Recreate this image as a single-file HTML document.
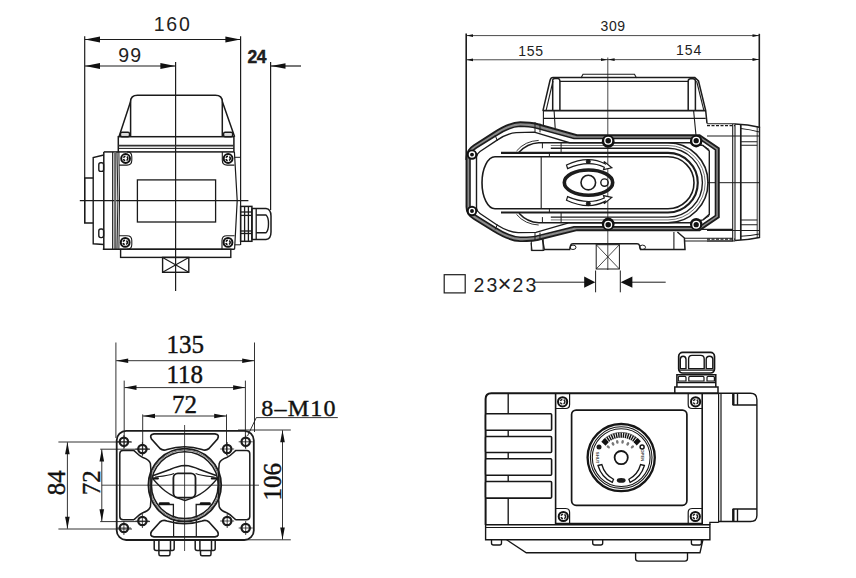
<!DOCTYPE html>
<html><head><meta charset="utf-8">
<style>
html,body{margin:0;padding:0;background:#fff;width:856px;height:578px;overflow:hidden}
svg{display:block}
.s{font-family:"Liberation Sans",sans-serif;fill:#222}
.r{font-family:"Liberation Serif",serif;fill:#111;stroke:#111;stroke-width:0.4px}
</style></head><body>
<svg width="856" height="578" viewBox="0 0 856 578">
<rect width="856" height="578" fill="#fff"/>

<!-- ============ TOP LEFT VIEW ============ -->
<g id="tl" fill="none" stroke="#1c1c1c" stroke-width="1.2">
  <!-- dimension / extension lines -->
  <line x1="84.7" y1="36.3" x2="84.7" y2="223"/>
  <line x1="240.6" y1="36.3" x2="240.6" y2="245"/>
  <line x1="270.6" y1="62" x2="270.6" y2="210"/>
  <line x1="175.6" y1="62" x2="175.6" y2="291"/>
  <line x1="85" y1="39.5" x2="240" y2="39.5"/>
  <line x1="85" y1="66" x2="175" y2="66"/>
  <line x1="271" y1="66" x2="301" y2="66"/>
  <line x1="79.8" y1="200.6" x2="248.4" y2="200.6"/>
</g>
<g fill="#111">
  <path d="M85,39.5 L100,36.6 L100,42.4 Z"/>
  <path d="M240.4,39.5 L225.4,36.6 L225.4,42.4 Z"/>
  <path d="M85,66 L100,63.1 L100,68.9 Z"/>
  <path d="M175.4,66 L160.4,63.1 L160.4,68.9 Z"/>
  <path d="M271,66 L285.5,63.3 L285.5,68.7 Z"/>
</g>
<text class="s" x="153.8" y="31.2" font-size="19.5" letter-spacing="1.7">160</text>
<text class="s" x="118.3" y="62.3" font-size="19.5" letter-spacing="1.1">99</text>
<text class="s" x="247.5" y="62.7" font-size="17.5" font-weight="bold" letter-spacing="-0.6" fill="#111" stroke="#111" stroke-width="0.4">24</text>

<g fill="none" stroke="#1a1a1a" stroke-width="1.35">
  <!-- top cover -->
  <path d="M130.6,136.7 L130.6,101.6 Q130.6,95.2 137.5,95.2 L215.4,95.2 Q222.3,95.2 222.3,101.6 L222.3,136.7" stroke-width="1.5"/>
  <path d="M130.6,101.6 L119,136.7 M222.3,101.6 L234.6,136.7" stroke-width="1.5"/>
  <rect x="120.5" y="132.2" width="9" height="4.5" rx="1.5" fill="#ddd"/>
  <rect x="223.6" y="132.2" width="9" height="4.5" rx="1.5" fill="#ddd"/>
  <!-- plate -->
  <rect x="118.3" y="136.7" width="115.6" height="15.2" stroke-width="1.5"/>
  <line x1="118.3" y1="145.6" x2="233.9" y2="145.6" stroke-width="1.9" stroke="#333"/>
  <line x1="118.3" y1="148.4" x2="233.9" y2="148.4" stroke-width="1"/>
  <!-- main box sides -->
  <path d="M118.9,151.9 L119.5,200.5 L118.9,249.3" stroke-width="1"/>
  <path d="M234.4,151.9 L237.2,200.5 L234.6,249.3" stroke-width="1.2"/>
  <line x1="234.4" y1="157.3" x2="240.4" y2="157.3" stroke-width="1"/>
  <line x1="234.6" y1="244.8" x2="240.4" y2="244.8" stroke-width="1"/>
  <!-- left flange -->
  <path d="M103.8,151.9 L118.3,151.9" stroke-width="1.5"/>
  <line x1="103.8" y1="151.9" x2="103.8" y2="249.3" stroke-width="1.5"/>
  <line x1="112.7" y1="151.9" x2="112.7" y2="249.3" stroke-width="1.2"/>
  <line x1="115.2" y1="151.9" x2="115.2" y2="249.3" stroke-width="2.2" stroke="#666"/>
  <line x1="117" y1="151.9" x2="117.9" y2="200.5" stroke-width="1"/>
  <line x1="117.9" y1="200.5" x2="117" y2="249.3" stroke-width="1"/>
  <path d="M103.8,155 L93.2,157.5 L93.2,243.8 L103.8,244.5" stroke-width="1.4"/>
  <path d="M93.2,178 L84.7,178 L84.7,223 L93.2,223" stroke-width="1.4"/>
  <rect x="98.8" y="162.8" width="4.8" height="8.6" rx="2" stroke-width="1.4"/>
  <rect x="98.8" y="229" width="4.8" height="8.6" rx="2" stroke-width="1.4"/>
  <!-- inner window -->
  <rect x="137.4" y="179.9" width="78.2" height="42.1" stroke-width="1.3"/>
  <!-- bottom -->
  <line x1="102.8" y1="249.3" x2="234.6" y2="249.3" stroke-width="1.6"/>
  <rect x="120.6" y="249.3" width="110.2" height="8.1" stroke-width="1.4"/>
  <rect x="162.6" y="257.4" width="26.2" height="14.9" stroke-width="1.4"/>
  <path d="M162.6,257.4 L188.8,272.3 M188.8,257.4 L162.6,272.3" stroke-width="1.1"/>
  <!-- screw bosses -->
  <path d="M119,165.1 L127,165.1 Q131.8,165.1 131.8,160.3 L131.8,156.7 Q131.8,151.9 127,151.9" stroke-width="1.1"/>
  <path d="M234.4,165.1 L227.1,165.1 Q222.3,165.1 222.3,160.3 L222.3,151.9" stroke-width="1.1"/>
  <path d="M119,235.8 L127,235.8 Q131.8,235.8 131.8,240.6 L131.8,244.5 Q131.8,249.3 127,249.3" stroke-width="1.1"/>
  <path d="M234.6,235.8 L226.8,235.8 Q222,235.8 222,240.6 L222,249.3" stroke-width="1.1"/>
</g>
<g fill="none" stroke="#111">
  <circle cx="125.6" cy="158.5" r="4.4" stroke-width="2"/>
  <circle cx="125.6" cy="158.5" r="2.2" stroke-width="1.6" stroke-dasharray="2.2,1.3"/>
  <circle cx="228.1" cy="158.5" r="4.4" stroke-width="2"/>
  <circle cx="228.1" cy="158.5" r="2.2" stroke-width="1.6" stroke-dasharray="2.2,1.3"/>
  <circle cx="125.2" cy="242.4" r="4.4" stroke-width="2"/>
  <circle cx="125.2" cy="242.4" r="2.2" stroke-width="1.6" stroke-dasharray="2.2,1.3"/>
  <circle cx="228" cy="242.4" r="4.4" stroke-width="2"/>
  <circle cx="228" cy="242.4" r="2.2" stroke-width="1.6" stroke-dasharray="2.2,1.3"/>
</g>
<g fill="none" stroke="#1a1a1a" stroke-width="1.3">
  <!-- cable gland -->
  <rect x="240.6" y="206.4" width="11.3" height="34.9" stroke-width="1.5"/>
  <line x1="240.6" y1="212" x2="251.9" y2="212"/>
  <line x1="240.6" y1="215.4" x2="251.9" y2="215.4"/>
  <line x1="240.6" y1="231" x2="251.9" y2="231"/>
  <line x1="240.6" y1="233.5" x2="251.9" y2="233.5"/>
  <line x1="244.6" y1="206.4" x2="244.6" y2="241.3"/>
  <line x1="248.4" y1="206.4" x2="248.4" y2="241.3"/>
  <path d="M251.9,208.4 L266,208.4 Q271,209 271,216 L271,232 Q271,239 266,239.6 L251.9,239.6" stroke-width="1.5"/>
  <line x1="256.2" y1="208.4" x2="256.2" y2="239.6"/>
  <path d="M256.2,215 L266,215 Q268.5,217 268.5,223.8 Q268.5,230.6 266,232.7 L256.2,232.7" stroke-width="1.4"/>
  <path d="M251.9,208.4 L251.9,239.6" stroke-width="1.5"/>
</g>

<!-- ============ TOP RIGHT VIEW ============ -->
<g id="tr" fill="none" stroke="#1c1c1c" stroke-width="1">
  <!-- dims -->
  <line x1="466.2" y1="33.4" x2="466.2" y2="160" stroke-width="1.6"/>
  <line x1="759.3" y1="33.8" x2="759.3" y2="128" stroke-width="1.6"/>
  <line x1="466.5" y1="35.6" x2="759" y2="35.6" stroke-width="0.8"/>
  <line x1="466.5" y1="59.8" x2="759" y2="59.5" stroke-width="0.8"/>
  <line x1="607.8" y1="57.5" x2="607.8" y2="270" stroke-width="0.8"/>
  <!-- top cover -->
  <path d="M581,77.9 L583,74.3 L634.5,74.3 L636.5,77.9" stroke-width="1.1"/>
  <path d="M542.9,110.8 L550,80.5 Q550.8,77.6 553,77.6 L694.8,77.6 L698.5,81 L705.7,110.6 L707,123.3" stroke-width="1.5"/>
  <line x1="559.9" y1="81.3" x2="688.2" y2="81.3" stroke-width="1.3"/>
  <path d="M546,110.8 L553,81" stroke-width="1.1"/><path d="M552.7,110.6 L552.7,80 Q553,78.6 555,78.6 L558,78.6 Q559.9,79 559.9,81 L559.9,110.6 M688.2,110.6 L688.2,81 Q688.4,78.8 690.5,78.8 L693,78.8 Q695.4,79 695.4,81 L695.4,110.6" stroke-width="1.5"/><path d="M703.9,110.6 L696.6,81" stroke-width="1.1"/>
  <line x1="542.9" y1="110.7" x2="705.7" y2="110.7" stroke-width="1.7"/>
  <line x1="543.4" y1="118.4" x2="705.7" y2="118.4" stroke-width="1.2"/>
  <path d="M543.4,110.8 L543.4,125 M554.1,110.8 L555.2,128.5 M693.6,110.6 L696,135.4" stroke-width="1.1"/>
  <!-- right housing -->
  <path d="M707,123.8 L735,123.8 M732.7,123.8 L732.7,241 M735,123.8 L735,241 M707,241 L735,241" stroke-width="1.1"/>
  <path d="M707,125.6 L735,125.6 M707,239.2 L735,239.2" stroke-width="1.2" stroke-dasharray="3,1.5"/>
  <path d="M735,124 Q748,124.5 759.5,127.2 L759.5,237.5 Q748,240 735,240.5" stroke-width="1.4"/>
  <line x1="740.8" y1="124.5" x2="740.8" y2="240" stroke-width="1.7"/>
  <line x1="757.2" y1="126.5" x2="757.2" y2="238" stroke-width="0.9"/>
  <path d="M740.8,128.5 Q750,129.5 759.5,132 M707,136 L759.5,136 M740.8,141.8 L757.2,141.8 M740.8,145.3 L757.2,145.3" stroke-width="1.1"/>
  <path d="M740.8,220 L757.2,220 M740.8,224.7 L757.2,224.7 M707,230.5 L759.5,230.5 M740.8,236.3 Q750,235.8 759.5,234" stroke-width="1.1"/>
  <line x1="707" y1="182.7" x2="759.5" y2="182.7" stroke-width="1"/>
  <!-- body outer band -->
  <path d="M468.2,158 C468.2,152.2 470.5,149.5 475.2,146.5 L494,134.7 C503.7,128.2 511.5,124.5 520.2,124.3 C527,124.3 531.8,124.7 536.5,126 L575.5,136.9 L699.3,136.9 L717.1,149.1 L717.1,216.4 L699.3,228.6 L575.5,228.6 L536.5,238.1 C531.8,239.1 527,239.2 520.2,239.1 C511.5,238.9 503.7,235.3 494,229.1 L475.2,217.5 C470.5,214.5 468.2,212 468.2,207 Z" stroke-width="3" stroke="#8a8a8a"/>
  <path d="M466.5,158 C466.5,151.5 469,148.5 474,145.3 L493,133.1 C503,126.5 511,122.5 520.2,122.3 C527,122.3 532,122.6 537,124 L577,135.2 L699.6,135.2 L718.8,148.3 L718.8,217.2 L699.6,230.2 L577,230.2 L537,240 C532,241 527,241.2 520.2,241.1 C511,240.8 503,237 493,230.8 L474,219 C469,215.8 466.5,213 466.5,207 Z" stroke-width="1.9"/>
  <path d="M470,158 C470,153 472,150.5 476.5,147.8 L495,136.3 C504.5,130 512,126.5 520.2,126.3 C527,126.3 531.5,126.8 536,128 L574,138.5 L699,138.5 L715.5,149.8 L715.5,215.7 L699,226.9 L574,226.9 L536,236.2 C531.5,237.2 527,237.3 520.2,237.2 C512,237 504.5,233.6 495,227.5 L476.5,216 C472,213.2 470,211 470,207 Z" stroke-width="1.6"/>
  <!-- inner line -->
  <path d="M476.5,212 L476.5,157 Q477,153.5 480,151.5 L497.1,140.1 C504,135.5 510,133 516.2,132.6 L534.3,132.1 L569.5,142.7 L690,142.7 L703,145.5 L709.3,151 L709.3,214.4 L703,219.9 L690,222.7 L569.5,222.7 L536,232.4 L518.2,232.6 C510,232.2 504,229.5 497.1,225 L480,213.5 Q477,211.5 476.5,208 Z" stroke-width="1.4"/>
  <path d="M495.1,135.1 L497.4,141 M495.1,229.6 L497.4,224.5" stroke-width="1"/>
  <path d="M535,122.1 L535,132.4 M540,123.6 L540,132.4 M535,240.5 L535,232.6 M540,239 L540,232.6 M703,145.5 L709.3,149.6 M703,219.9 L709.3,215.8" stroke-width="1"/>
  <!-- track / window -->
  <path d="M519,152.2 Q527,143.5 538.7,142.7 L668,142.7 A40,40 0 0 1 668,222.7 L538.7,222.7 Q527,222 519,213.2" stroke-width="1.6"/><path d="M516.5,151 Q525,141 538.7,140.4 M516.5,214.4 Q525,224.4 538.7,225" stroke-width="0.9"/>
  <path d="M550.8,145.5 L668,145.5 A37.2,37.2 0 0 1 668,219.9 L550.8,219.9" stroke-width="0.9" stroke="#666"/>
  <path d="M550.8,148.3 L668,148.3 A34.4,34.4 0 0 1 668,217.1 L550.8,217.1" stroke-width="1.4"/>
  <path d="M501,152.9 L668,152.9 A29.8,29.8 0 0 1 668,212.5 L501,212.5" stroke-width="2.1"/>
  <path d="M495,156.7 L668,156.7 A26,26 0 0 1 668,208.7 L495,208.7 A13,26 0 0 1 495,156.7 Z" stroke-width="1.6" stroke="#1a1a1a"/>
  <line x1="541.2" y1="156.7" x2="541.2" y2="208.7" stroke-width="1.1"/>
  <path d="M542.4,142.7 L542.4,148.3 M561.1,142.7 L561.1,152.9 M549.4,152.9 L549.4,156.7 M542.4,222.7 L542.4,217.1 M561.1,222.7 L561.1,212.5 M549.4,212.5 L549.4,208.7" stroke-width="1"/>
  <path d="M531.3,241 L543.1,239 L543.1,250.6 L531.3,250.6 Z" stroke-width="1"/>
  <!-- screws -->
  <g fill="#111" stroke="none">
  <circle cx="472" cy="154.6" r="5.2"/>
  <circle cx="472" cy="211" r="5.2"/>
  <circle cx="608.2" cy="141.4" r="6.4"/>
  <circle cx="608.2" cy="224" r="6.4"/>
  <circle cx="696.2" cy="141.2" r="6.2"/>
  <circle cx="696.2" cy="224.2" r="6.2"/>
  </g>
  <g fill="none" stroke="#fff" stroke-width="1.3">
  <circle cx="472" cy="154.6" r="2.6"/>
  <circle cx="472" cy="211" r="2.6"/>
  <circle cx="608.2" cy="140.7" r="3.4"/>
  <circle cx="608.2" cy="224.7" r="3.4"/>
  <circle cx="696.2" cy="140.7" r="3.3"/>
  <circle cx="696.2" cy="224.7" r="3.3"/>
  </g>
  <!-- oval indicator -->
  <ellipse cx="588.5" cy="182.6" rx="24.2" ry="12.6" stroke-width="3.6"/>
  <circle cx="588.3" cy="182.6" r="7.3" stroke-width="1.6"/>
  <circle cx="604.5" cy="182.6" r="3.7" stroke-width="1.4"/>
  <path d="M566.5,165 Q588.3,154.8 605,163.8 L604,161.4 L611.8,167.8 L603.5,169.6 L604.3,167.2 Q588.3,159.6 567.6,168.6 Z" stroke-width="1.2" fill="#fff"/>
  <path d="M566.5,200.2 Q588.3,210.4 605,201.4 L604,203.8 L611.8,197.4 L603.5,195.6 L604.3,198 Q588.3,205.6 567.6,196.6 Z" stroke-width="1.2" fill="#fff"/>
  <circle cx="588.3" cy="161.6" r="2" fill="#1c1c1c"/>
  <circle cx="588.3" cy="203.6" r="2" fill="#1c1c1c"/>
  <!-- base -->
  <path d="M542.5,239.5 L544.3,249.6 L569.7,249.6 L570.6,245.5 Q571,243.8 573,243.8 L637,243.8 Q639,243.8 639.5,245.5 L640.5,249.6 L685,249.6 L684.4,238 L677.4,232" stroke-width="1.5"/>
  <path d="M531.1,242.8 L532,250.4 L544.3,250.4 M673.9,232 L673.9,249.6" stroke-width="1.1"/>
  <path d="M573,247.3 m-3,0 a3,2.2 0 1 0 6,0 a3,2.2 0 1 0 -6,0 M642.5,247.3 m-3,0 a3,2.2 0 1 0 6,0 a3,2.2 0 1 0 -6,0" stroke-width="1"/>
  <path d="M685,238.2 L733,238.2 M685,241 L733,241 M702,229.4 L733,229.4" stroke-width="1.1"/>
  <rect x="596.2" y="244.7" width="23.2" height="24.3" stroke-width="1"/>
  <path d="M596.2,244.7 L619.4,269 M619.4,244.7 L596.2,269" stroke-width="0.8"/>
  <!-- 23x23 -->
  <rect x="444.2" y="274.7" width="21" height="18.2" stroke-width="1.2"/>
  <line x1="535" y1="282.2" x2="585" y2="282.2" stroke-width="1"/>
  <line x1="632" y1="282.2" x2="665.7" y2="282.2" stroke-width="1"/>
  <line x1="595.6" y1="270.5" x2="595.6" y2="292.3" stroke-width="1"/>
  <line x1="620.3" y1="270.5" x2="620.3" y2="292.3" stroke-width="1"/>
</g>
<g fill="#111">
  <path d="M595.3,282.2 L584.2,276.6 L584.2,287.8 Z"/>
  <path d="M620.6,282.2 L632.4,276.6 L632.4,287.8 Z"/>
  <path d="M466.5,35.6 L473,34.2 L473,37 Z"/>
  <path d="M759,35.6 L752.5,34.2 L752.5,37 Z"/>
  <path d="M466.5,59.8 L473,58.4 L473,61.2 Z"/>
  <path d="M607.5,59.7 L601,58.3 L601,61.1 Z"/>
  <path d="M608.1,59.6 L614.6,58.2 L614.6,61 Z"/>
  <path d="M759,59.5 L752.5,58.1 L752.5,60.9 Z"/>
</g>
<text class="s" x="600.5" y="30.9" font-size="14" fill="#333" letter-spacing="0.6">309</text>
<text class="s" x="518.2" y="55.8" font-size="14" fill="#333" letter-spacing="0.8">155</text>
<text class="s" x="676" y="54.7" font-size="14" fill="#333" letter-spacing="1">154</text>
<text class="s" y="291.5" font-size="19.5" fill="#222"><tspan x="473.6">2</tspan><tspan x="486.6">3</tspan><tspan x="497.6" font-size="24">×</tspan><tspan x="512.6">2</tspan><tspan x="525.6">3</tspan></text>

<!-- ============ BOTTOM LEFT VIEW ============ -->
<g id="bl" fill="none" stroke="#1c1c1c" stroke-width="1">
  <!-- extension lines -->
  <path d="M115.9,342.5 L115.9,438 M254.5,342.5 L254.5,432 M124.2,380.6 L124.2,448 M245.4,380.6 L245.4,448 M142.7,414.4 L142.7,455 M226.5,414.4 L226.5,455" stroke-width="0.9"/>
  <path d="M116.2,360.7 L254.2,360.7 M124.5,387.6 L245.1,387.6 M143,416 L226.2,416" stroke-width="0.9"/>
  <path d="M58.4,442 L132,442 M58.4,529 L132,529 M67.4,442.3 L67.4,528.7 M100.2,449.2 L150,449.2 M100.2,521.6 L150,521.6 M101.8,449.5 L101.8,521.3" stroke-width="0.9"/>
  <path d="M238,430 L290.8,430 M238,539.8 L290.8,539.8 M282.5,430.3 L282.5,539.5" stroke-width="0.9"/>
  <path d="M101.8,485.2 L259,485.2 M184.6,425 L184.6,551" stroke-width="0.8"/>
  <path d="M256.3,417.6 L337.8,417.6 M256.3,417.6 L247.5,436" stroke-width="0.9"/>
  <!-- flange -->
  <rect x="116.7" y="430.8" width="137.1" height="109.2" rx="9.5" stroke-width="1.8"/>
  <!-- holes -->
  <g stroke-width="2.2">
  <circle cx="123.9" cy="441.8" r="4.2"/><circle cx="245.7" cy="441.8" r="4.2"/>
  <circle cx="123.9" cy="528" r="4.2"/><circle cx="245.7" cy="528" r="4.2"/>
  <circle cx="142.4" cy="449" r="4.2"/><circle cx="227.2" cy="449" r="4.2"/>
  <circle cx="142.4" cy="521" r="4.2"/><circle cx="227.2" cy="521" r="4.2"/>
  </g>
  <g stroke-width="0.8">
  <path d="M117,441.8 L131,441.8 M123.9,435 L123.9,449 M238.7,441.8 L252.7,441.8 M245.7,435 L245.7,449 M117,528 L131,528 M123.9,521 L123.9,535 M238.7,528 L252.7,528 M245.7,521 L245.7,535"/>
  <path d="M135.4,449 L149.4,449 M142.4,442 L142.4,456 M220.2,449 L234.2,449 M227.2,442 L227.2,456 M135.4,521 L149.4,521 M142.4,514 L142.4,528 M220.2,521 L234.2,521 M227.2,514 L227.2,528"/>
  </g>
  <!-- top/bottom trapezoid windows -->
  <path d="M154,433.8 L215,433.8 Q220,434.5 217.5,439 L209,448.5 Q206,451 202,449.5 Q184.6,444 167,449.5 Q163,451 160,448.5 L151.5,439 Q149,434.5 154,433.8 Z" stroke-width="1.7"/>
  <path d="M154,536.8 L215,536.8 Q220,536 217.5,531.5 L209,522 Q206,519.5 202,521 Q184.6,526.5 167,521 Q163,519.5 160,522 L151.5,531.5 Q149,536 154,536.8 Z" stroke-width="1.7"/>
  <!-- side cutouts -->
  <path d="M123,450.5 L133.8,450.5 C135.5,451.5 138,455.5 142.9,457.5 C146,458.5 149,459.5 150.4,463.4 L150.9,470 L150.9,500.2 L150.4,506.8 C149,510.7 146,511.7 142.9,512.7 C138,514.7 135.5,518.7 133.8,519.7 L123,519.7 Q119.8,519.7 119.8,516.5 L119.8,453.7 Q119.8,450.5 123,450.5 Z" stroke-width="1.5"/>
  <path d="M 246.6,450.5 L 235.8,450.5 C 234.1,451.5 231.6,455.5 226.7,457.5 C 223.6,458.5 220.6,459.5 219.2,463.4 L 218.7,470.0 L 218.7,500.2 L 219.2,506.8 C 220.6,510.7 223.6,511.7 226.7,512.7 C 231.6,514.7 234.1,518.7 235.8,519.7 L 246.6,519.7 Q 249.8,519.7 249.8,516.5 L 249.8,453.7 Q 249.8,450.5 246.6,450.5 Z" stroke-width="1.5"/>
  <!-- circles -->
  <circle cx="184.8" cy="485.1" r="36.4" stroke-width="1.8"/>
  <circle cx="184.8" cy="485.1" r="33.4" stroke-width="1.6"/>
  <circle cx="184.8" cy="485.1" r="35" stroke-width="0.6"/>
  <rect x="173.4" y="473.4" width="22.1" height="24.2" rx="4.5" stroke-width="1.8"/>
  <path d="M152.8,475.8 L170,469.5 Q178,465.8 185,465.5 Q191.6,465.8 199.6,469.5 L216.8,475.8" stroke-width="1.5"/>
  <path d="M155,477 C162,476.2 169,475.6 174,473.4 M195.6,473.4 C200.6,475.6 207.6,476.2 214.6,477" stroke-width="1.1"/>
  <path d="M152.6,478.5 C160,487 168,496 185,500.5 C202,496 210,487 217.4,478.5" stroke-width="1.3"/>
  <path d="M158.8,504.5 L173.4,504.5 L173.4,517.5 M196.2,517.5 L196.2,504.5 L210.5,504.5" stroke-width="1.3"/>
  <path d="M173.6,520 L173.6,536.8 M196.3,520 L196.3,536.8" stroke-width="1.2"/>
  <!-- nuts -->
  <path d="M154.2,540 L154.2,548.5 Q154.2,550.5 156.2,550.5 L172.2,550.5 Q174.2,550.5 174.2,548.5 L174.2,540 M158.9,540 L158.9,550.5 M170.5,540 L170.5,550.5 M158.9,550.5 L158.9,554 Q158.9,555.8 160.5,555.8 L168.4,555.8 Q170,555.8 170,554 L170,550.5" stroke-width="1.5"/>
  <path d="M195.2,540 L195.2,548.5 Q195.2,550.5 197.2,550.5 L213.2,550.5 Q215.2,550.5 215.2,548.5 L215.2,540 M199.9,540 L199.9,550.5 M211.5,540 L211.5,550.5 M200.5,550.5 L200.5,554 Q200.5,555.8 202,555.8 L209.5,555.8 Q211,555.8 211,554 L211,550.5" stroke-width="1.5"/>
</g>
<g fill="#111">
  <path d="M116.2,360.7 L128.2,358.4 L128.2,363 Z"/>
  <path d="M254.2,360.7 L242.2,358.4 L242.2,363 Z"/>
  <path d="M124.5,387.6 L136.5,385.3 L136.5,389.9 Z"/>
  <path d="M245.1,387.6 L233.1,385.3 L233.1,389.9 Z"/>
  <path d="M143,416 L155,413.7 L155,418.3 Z"/>
  <path d="M226.2,416 L214.2,413.7 L214.2,418.3 Z"/>
  <path d="M67.4,442.3 L65.1,454.3 L69.7,454.3 Z"/>
  <path d="M67.4,528.7 L65.1,516.7 L69.7,516.7 Z"/>
  <path d="M101.8,449.5 L99.5,461.5 L104.1,461.5 Z"/>
  <path d="M101.8,521.3 L99.5,509.3 L104.1,509.3 Z"/>
  <path d="M282.5,430.3 L280.2,442.3 L284.8,442.3 Z"/>
  <path d="M282.5,539.5 L280.2,527.5 L284.8,527.5 Z"/>
  <rect x="158.8" y="502.2" width="11" height="2.6" rx="1.2"/>
  <rect x="199.8" y="502.2" width="11" height="2.6" rx="1.2"/>
  <rect x="152.4" y="477.3" width="6.5" height="2.2" rx="1"/>
  <rect x="210.8" y="477.3" width="6.5" height="2.2" rx="1"/>
</g>
<text class="r" x="166.5" y="352.8" font-size="25">135</text>
<text class="r" x="166.5" y="382.6" font-size="25">118</text>
<text class="r" x="172" y="413.4" font-size="25">72</text>
<text class="r" x="261.3" y="416.3" font-size="24" letter-spacing="1.2">8–M10</text>
<text class="r" font-size="25" transform="translate(64.7,495.3) rotate(-90)">84</text>
<text class="r" font-size="25" transform="translate(99.6,495.3) rotate(-90)">72</text>
<text class="r" font-size="25" transform="translate(281.1,500.6) rotate(-90)">106</text>

<!-- ============ BOTTOM RIGHT VIEW ============ -->
<g id="br" fill="none" stroke="#161616" stroke-width="1.35">
  <!-- main body outline -->
  <path d="M485.6,524.7 L485.6,399 Q485.6,393.3 491.3,393.3 L718.1,393.3" stroke-width="2"/>
  <line x1="508.2" y1="393.3" x2="508.2" y2="524.7"/>
  <!-- slats -->
  <rect fill="#fff" x="485.6" y="413.8" width="66" height="16.4" rx="1" stroke-width="1.6"/>
  <rect fill="#fff" x="485.6" y="436.5" width="66" height="16" rx="1" stroke-width="1.6"/>
  <rect fill="#fff" x="485.6" y="458.8" width="66" height="16.4" rx="1" stroke-width="1.6"/>
  <rect fill="#fff" x="485.6" y="481.5" width="66" height="16.6" rx="1" stroke-width="1.6"/>
  <!-- cover plate -->
  <path d="M555.6,393.3 L555.6,523.5 L702.2,523.5 L702.2,393.3" stroke-width="1.6"/>
  <rect x="571.6" y="410.1" width="115.3" height="95.2" rx="4.5" stroke-width="1.7"/>
  <!-- screws -->
  <g stroke-width="1.2">
    <path d="M555.6,393.5 L569.6,393.5 L569.6,404.5 Q569.6,408.5 565.6,408.5 L555.6,408.5"/>
    <path d="M702.2,393.5 L688.2,393.5 L688.2,404.5 Q688.2,408.5 692.2,408.5 L702.2,408.5"/>
    <path d="M555.6,523.5 L569.6,523.5 L569.6,512.5 Q569.6,508.5 565.6,508.5 L555.6,508.5"/>
    <path d="M702.2,523.5 L688.2,523.5 L688.2,512.5 Q688.2,508.5 692.2,508.5 L702.2,508.5"/>
  </g>
  <g stroke-width="2" stroke="#111">
    <circle cx="562.6" cy="401.8" r="4.6"/><circle cx="695.6" cy="401.8" r="4.6"/>
    <circle cx="563.3" cy="516.5" r="4.6"/><circle cx="695.3" cy="516.5" r="4.6"/>
  </g>
  <g stroke-width="1.5" stroke="#222" stroke-dasharray="2.4,1.2">
    <circle cx="562.6" cy="401.8" r="2.3"/><circle cx="695.6" cy="401.8" r="2.3"/>
    <circle cx="563.3" cy="516.5" r="2.3"/><circle cx="695.3" cy="516.5" r="2.3"/>
  </g>
  <!-- right cap -->
  <path d="M718.1,393.3 L750.5,393.3 Q756.9,393.3 756.9,399.7 L756.9,515.5 Q756.9,521.5 750.5,521.5 L718.1,521.5" stroke-width="1.4"/>
  <line x1="718.6" y1="393.3" x2="718.6" y2="522.4" stroke-width="1.2"/>
  <line x1="721" y1="393.3" x2="721" y2="521.5" stroke-width="1.2"/>
  <path d="M732.6,405 L756.9,405 M737.5,393.3 L737.5,405 M732.6,509 L756.9,509 M737.5,509 L737.5,521.5"/><path d="M733.3,393.3 L733.3,405 M733.3,509 L733.3,521.5" stroke-width="2.4"/>
  
  <!-- cable gland -->
  <path d="M674.8,393 L674.8,387 L718,387 L718,393" stroke-width="1.5"/>
  <path d="M676.9,387 L676.9,374.8 L715.8,374.8 L715.8,387 M676.9,382.6 L715.8,382.6" stroke-width="1.5"/>
  <path d="M678.3,381 L678.3,377.5 Q678.3,376.3 679.5,376.3 L684.8,376.3 Q686,376.3 686,377.5 L686,381 Z M688.8,381 L688.8,377.5 Q688.8,376.3 690,376.3 L702.8,376.3 Q704,376.3 704,377.5 L704,381 Z M707,381 L707,377.5 Q707,376.3 708.2,376.3 L713.2,376.3 Q714.4,376.3 714.4,377.5 L714.4,381 Z" stroke-width="1.2"/>
  <rect x="678.7" y="352.4" width="35.8" height="20.6" rx="4" stroke-width="1.7"/>
  <path d="M678.7,370.1 L714.5,370.1" stroke-width="1.3"/>
  <path d="M680.3,368.6 L680.3,359.5 Q680.3,356.2 683.1,356.2 Q686,356.2 686,359.5 L686,368.6 Z M688.6,368.6 L688.6,359 Q688.6,355.4 692,355.4 L700.8,355.4 Q704.2,355.4 704.2,359 L704.2,368.6 Z M706.2,368.6 L706.2,359.5 Q706.2,356.2 709.5,356.2 Q712.8,356.2 712.8,359.5 L712.8,368.6 Z" stroke-width="1.4"/>
  <!-- bottom strip -->
  <path d="M485.6,524.7 L709.9,524.7 L709.9,539.8 L485.6,539.8 Z" stroke-width="1.4"/>
  <line x1="485.6" y1="527.5" x2="709.9" y2="527.5" stroke-width="1.2"/>
  <path d="M709.9,524.7 L709.9,522.4 L718.6,522.4"/>
  <path d="M506.6,539.8 L526.3,552.7 L700,552.7 L702.9,539.8"/>
  <path d="M635.6,552.7 L635.6,558.5 Q635.6,561.1 638.2,561.1 L684.9,561.1 Q687.5,561.1 687.5,558.5 L687.5,552.7"/>
  <path d="M491.5,539.8 L491.5,543 Q491.5,545 493.5,545 L499.5,545 Q501.5,545 501.5,543 L501.5,539.8"/>
  <path d="M592.7,539.8 L592.7,543 Q592.7,545 594.7,545 L600.7,545 Q602.7,545 602.7,543 L602.7,539.8"/>
  <path d="M691.4,539.8 L691.4,543 Q691.4,545 693.4,545 L699.4,545 Q701.4,545 701.4,543 L701.4,539.8"/>
  <!-- dial -->
  <circle cx="621.2" cy="457.6" r="33.6" stroke-width="2.3"/>
  <circle cx="621.2" cy="457.6" r="30.8" stroke-width="1.1"/>
  <circle cx="621.2" cy="457.6" r="28.9" stroke-width="1.1"/>
  <circle cx="621.2" cy="457.6" r="6.6" stroke-width="1.8"/>
  <path d="M608.14,442.58 L604.67,438.58 M609.75,441.33 L606.69,436.99 M611.47,440.24 L608.87,435.62 M613.29,439.34 L611.18,434.48 M615.19,438.63 L613.59,433.58 M617.16,438.11 L616.08,432.92 M619.17,437.80 L618.63,432.53 M621.20,437.70 L621.20,432.40 M623.23,437.80 L623.77,432.53 M625.24,438.11 L626.32,432.92 M627.21,438.63 L628.81,433.58 M629.11,439.34 L631.22,434.48 M630.93,440.24 L633.53,435.62 M632.65,441.33 L635.71,436.99 M634.26,442.58 L637.73,438.58" stroke-width="1.45" stroke="#111"/>
  <path d="M603.07,440.09 A25.2,25.2 0 0 1 639.33,440.09" stroke-width="0.8" stroke="#555"/>
  <path d="M607.03,444.06 L602.84,440.05" stroke-width="4.4" stroke="#111"/>
  <path d="M635.18,443.86 L639.32,439.80" stroke-width="4.4" stroke="#111"/>
  <path d="M598,465.5 L601.8,464.5 Q604.5,474.5 613.5,479.3 L612.3,482.4 Q601.5,477.5 598,465.5 Z" stroke-width="1.3"/>
  <path d="M644.4,465.5 L640.6,464.5 Q637.9,474.5 628.9,479.3 L630.1,482.4 Q640.9,477.5 644.4,465.5 Z" stroke-width="1.3"/>
  <circle cx="642.1" cy="446.9" r="2" stroke-width="1.5"/>
  <g fill="#777" stroke="none"><ellipse cx="608.3" cy="446.9" rx="1.3" ry="1.9" transform="rotate(-48 608.3 446.9)"/><ellipse cx="613" cy="443.8" rx="1.3" ry="1.9" transform="rotate(-29 613 443.8)"/><ellipse cx="617.3" cy="441.9" rx="1.3" ry="1.9" transform="rotate(-12 617.3 441.9)"/><ellipse cx="622.6" cy="441.9" rx="1.3" ry="1.9" transform="rotate(9 622.6 441.9)"/><ellipse cx="627.8" cy="443.8" rx="1.3" ry="1.9" transform="rotate(30 627.8 443.8)"/><ellipse cx="632.4" cy="446.9" rx="1.3" ry="1.9" transform="rotate(48 632.4 446.9)"/></g>
</g>
<g fill="#1c1c1c">
  <circle cx="599" cy="446.9" r="2.5"/>
  <ellipse cx="621.2" cy="480.4" rx="4.4" ry="2.3"/>
  <text font-family="Liberation Sans, sans-serif" font-size="4.3" font-weight="bold" fill="#444" transform="translate(595.6,451.8) rotate(90)">SHUT</text>
  <text font-family="Liberation Sans, sans-serif" font-size="4.3" font-weight="bold" fill="#444" transform="translate(641.2,449.2) rotate(90)">OPEN</text>
</g>
</svg>
</body></html>
